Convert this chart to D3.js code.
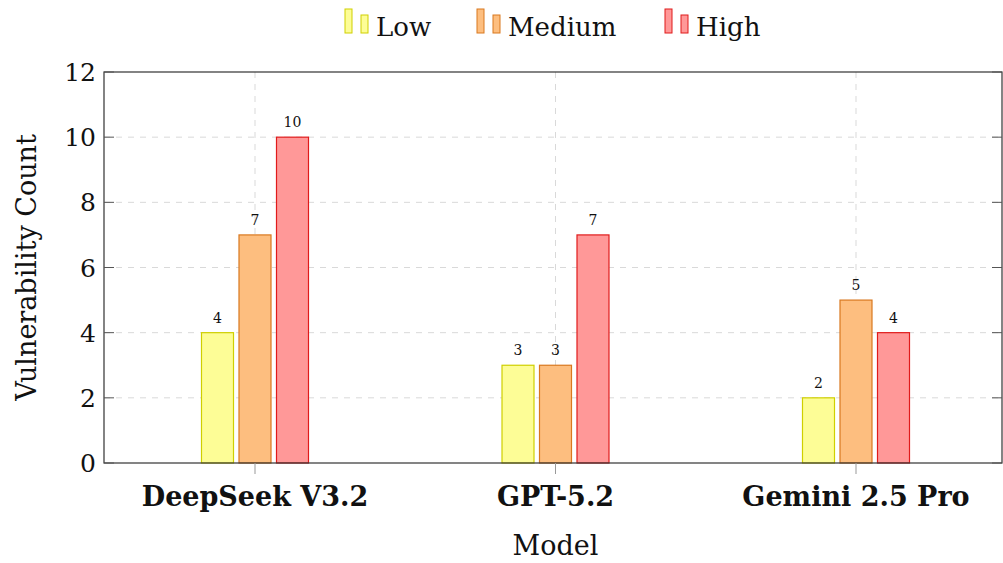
<!DOCTYPE html>
<html>
<head>
<meta charset="utf-8">
<script src="https://cdn.jsdelivr.net/npm/d3@7"></script>
<style>
  body { margin: 0; background: #fff; }
  svg text { font-family: "DejaVu Serif", serif; fill: #111; }
</style>
</head>
<body>
<div id="chart"></div>
<script>
var models = ["DeepSeek V3.2", "GPT-5.2", "Gemini 2.5 Pro"];
var levels = ["Low", "Medium", "High"];
var low = [4, 3, 2];
var medium = [7, 3, 5];
var high = [10, 7, 4];
var yTicks = [0, 2, 4, 6, 8, 10, 12];

var fills = {Low: "#fdfd96", Medium: "#fdbe7f", High: "#ff9898"};
var strokes = {Low: "#cfcf00", Medium: "#d9781f", High: "#e01b1b"};
var series = {Low: low, Medium: medium, High: high};

var width = 1003, height = 563;
var margin = {top: 72, right: 1, bottom: 100, left: 104};
var w = width - margin.left - margin.right,
    h = height - margin.top - margin.bottom;

var x = d3.scaleLinear().domain([0, 2]).range([151, 752]);
var y = d3.scaleLinear().domain([0, 12]).range([h, 0]);

var svg = d3.select("#chart").append("svg")
    .attr("width", width)
    .attr("height", height);

var g = svg.append("g")
    .attr("transform", "translate(" + margin.left + "," + margin.top + ")");

// grid
g.selectAll(".hgrid").data(yTicks.slice(1, -1)).enter().append("line")
    .attr("x1", 0).attr("x2", w)
    .attr("y1", function (d) { return y(d); })
    .attr("y2", function (d) { return y(d); })
    .attr("stroke", "#d9d9d9").attr("stroke-dasharray", "6,6");

g.selectAll(".vgrid").data(models).enter().append("line")
    .attr("x1", function (d, i) { return x(i); })
    .attr("x2", function (d, i) { return x(i); })
    .attr("y1", 0).attr("y2", h)
    .attr("stroke", "#d9d9d9").attr("stroke-dasharray", "6,6");

// bars
var barW = 32, step = 37.5;
levels.forEach(function (lv, k) {
    var vals = series[lv];
    var off = (k - 1) * step;
    g.selectAll(".bar-" + lv).data(vals).enter().append("rect")
        .attr("x", function (d, i) { return x(i) + off - barW / 2; })
        .attr("y", function (d) { return y(d); })
        .attr("width", barW)
        .attr("height", function (d) { return h - y(d); })
        .attr("fill", fills[lv])
        .attr("stroke", strokes[lv])
        .attr("stroke-width", 1.2);

    g.selectAll(".lbl-" + lv).data(vals).enter().append("text")
        .attr("x", function (d, i) { return x(i) + off; })
        .attr("y", function (d) { return y(d) - 10; })
        .attr("text-anchor", "middle")
        .style("font-size", "14px")
        .text(function (d) { return d; });
});

// frame
g.append("rect")
    .attr("x", 0).attr("y", 0).attr("width", w).attr("height", h)
    .attr("fill", "none").attr("stroke", "#333").attr("stroke-width", 1.2);

// y ticks (inside, both sides)
var yt = g.append("g");
yTicks.forEach(function (t) {
    yt.append("line").attr("x1", 0).attr("x2", 10)
        .attr("y1", y(t)).attr("y2", y(t)).attr("stroke", "#555");
    yt.append("line").attr("x1", w - 10).attr("x2", w)
        .attr("y1", y(t)).attr("y2", y(t)).attr("stroke", "#555");
    yt.append("text")
        .attr("x", -8).attr("y", y(t))
        .attr("dy", "0.36em")
        .attr("text-anchor", "end")
        .style("font-size", "25px")
        .text(t);
});

// x ticks and labels
models.forEach(function (m, i) {
    g.append("line").attr("x1", x(i)).attr("x2", x(i))
        .attr("y1", h).attr("y2", h + 11).attr("stroke", "#999");
    g.append("text")
        .attr("x", x(i)).attr("y", h + 43)
        .attr("text-anchor", "middle")
        .style("font-size", "27px")
        .style("font-weight", "bold")
        .text(m);
});

// axis titles
svg.append("text")
    .attr("x", margin.left + x(1)).attr("y", 555)
    .attr("text-anchor", "middle")
    .style("font-size", "27px")
    .text("Model");

svg.append("text")
    .attr("transform", "translate(36," + (margin.top + h / 2) + ") rotate(-90)")
    .attr("text-anchor", "middle")
    .style("font-size", "27px")
    .text("Vulnerability Count");

// legend
var legendX = [345, 477, 665];
var leg = svg.append("g");
levels.forEach(function (lv, k) {
    var lx = legendX[k];
    leg.append("rect").attr("x", lx).attr("y", 9).attr("width", 7).attr("height", 24)
        .attr("fill", fills[lv]).attr("stroke", strokes[lv]).attr("stroke-width", 1);
    leg.append("rect").attr("x", lx + 16).attr("y", 15).attr("width", 7).attr("height", 18)
        .attr("fill", fills[lv]).attr("stroke", strokes[lv]).attr("stroke-width", 1);
    leg.append("text").attr("x", lx + 31).attr("y", 36)
        .style("font-size", "26px")
        .text(lv);
});
</script>
</body>
</html>
